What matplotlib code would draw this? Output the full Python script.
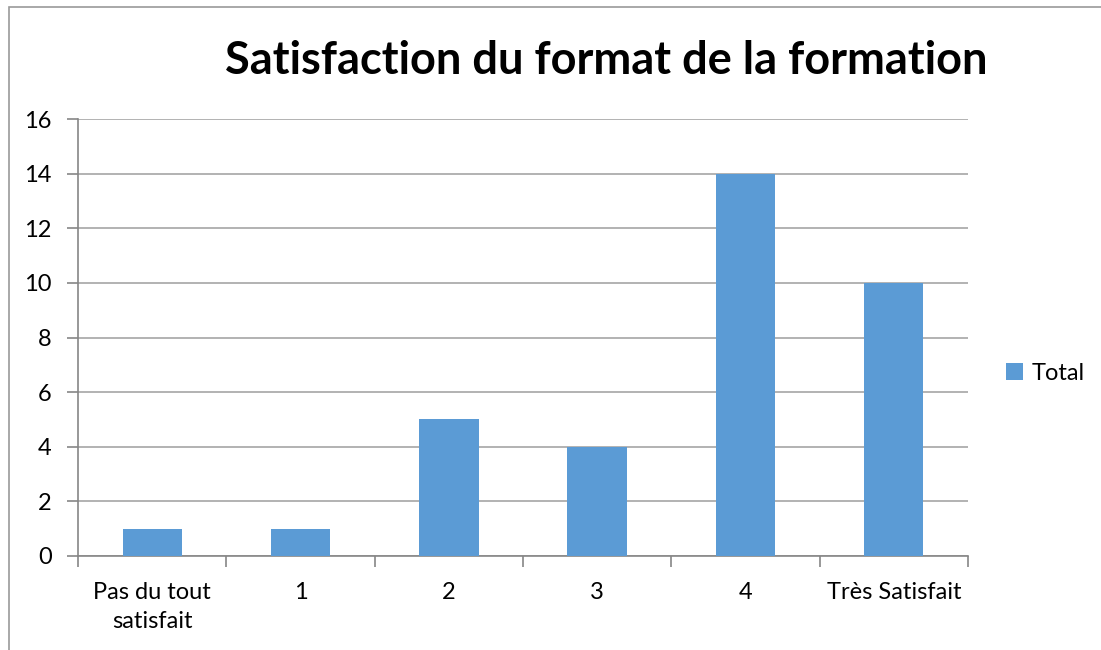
import matplotlib
matplotlib.use("Agg")
import matplotlib.pyplot as plt
from matplotlib.patches import Rectangle

categories = ["Pas du tout\nsatisfait", "1", "2", "3", "4", "Très Satisfait"]
values = [1, 1, 5, 4, 14, 10]
yticks = [0, 2, 4, 6, 8, 10, 12, 14, 16]
series_name = "Total"
title = "Satisfaction du format de la formation"

plt.rcParams['font.family'] = ['Lato', 'DejaVu Sans']

W, H = 1101, 650
fig = plt.figure(figsize=(W / 100, H / 100), dpi=100)
fig.patch.set_facecolor("white")

# outer chart border (right and bottom edges lie outside the picture)
fig.add_artist(Rectangle((9 / W, -0.02), 1.05, 1 - 7 / H + 0.02,
                         transform=fig.transFigure, fill=False,
                         edgecolor="#9a9a9a", linewidth=1.2))

left, right, top, bottom = 78, 968, 119, 556
ax = fig.add_axes([left / W, 1 - bottom / H, (right - left) / W, (bottom - top) / H])

x = list(range(len(categories)))
ax.bar(x, values, width=0.4, color="#5B9BD5", zorder=3, label=series_name)
ax.set_xlim(-0.5, len(categories) - 0.5)
ax.set_ylim(0, 16)
ax.set_yticks(yticks)
ax.set_yticklabels([str(v) for v in yticks], fontsize=17)
ax.yaxis.grid(True, color="#A6A6A6", linewidth=1.2, zorder=0)
ax.set_axisbelow(True)

ax.set_xticks(x)
ax.set_xticklabels(categories, fontsize=17, linespacing=1.45)
ax.tick_params(axis='x', length=0, pad=19)
ax.set_xticks([i - 0.5 for i in range(len(categories) + 1)], minor=True)
ax.tick_params(axis='x', which='minor', length=8, color="#868686", width=1.2)
ax.tick_params(axis='y', length=8, color="#868686", width=1.2, pad=11)

for s in ["top", "right"]:
    ax.spines[s].set_visible(False)
for s in ["left", "bottom"]:
    ax.spines[s].set_color("#868686")
    ax.spines[s].set_linewidth(1.2)

fig.text(606 / W, 1 - 61 / H, title, ha="center", va="center",
         fontsize=32.5, fontweight="bold")

leg = fig.legend(loc="center left", bbox_to_anchor=(1006 / W, 1 - 373 / H),
                 frameon=False, fontsize=17, handlelength=0.7, handleheight=0.7,
                 handletextpad=0.4, borderaxespad=0, borderpad=0)

fig.savefig("out.png", dpi=100)
